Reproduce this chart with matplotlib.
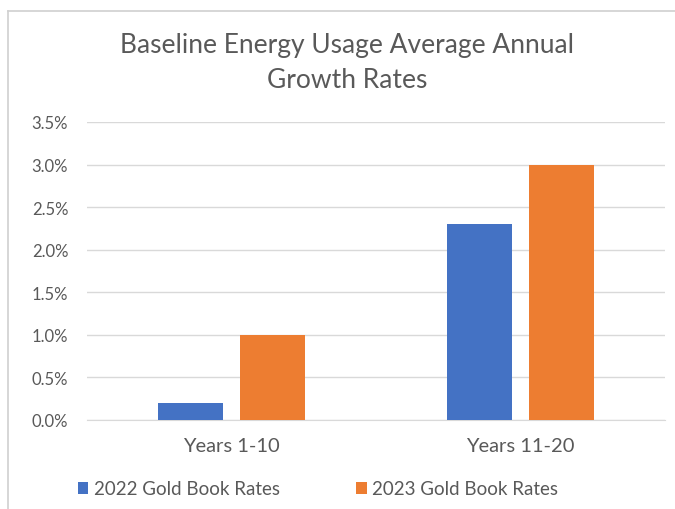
import matplotlib
matplotlib.use("Agg")
import matplotlib.pyplot as plt
from matplotlib.lines import Line2D
from matplotlib.patches import Patch
import numpy as np

categories = ["Years 1-10", "Years 11-20"]
series_names = ["2022 Gold Book Rates", "2023 Gold Book Rates"]
rates_2022 = [0.2, 2.3]
rates_2023 = [1.0, 3.0]
yticks = [0.0, 0.5, 1.0, 1.5, 2.0, 2.5, 3.0, 3.5]
title = "Baseline Energy Usage Average Annual\nGrowth Rates"

BLUE = "#4472C4"
ORANGE = "#ED7D31"
GRAY_TXT = "#595959"
GRID = "#D9D9D9"

plt.rcParams['font.family'] = ['Lato', 'DejaVu Sans']

W, H = 675, 510
fig = plt.figure(figsize=(W / 100, H / 100), dpi=100)
fig.patch.set_facecolor("white")

# axes: x 87..665, y 123..421 (pixel, top origin)
left, right, top, bottom = 87, 665, 123, 421
ax = fig.add_axes([left / W, 1 - bottom / H, (right - left) / W, (bottom - top) / H])

x = np.arange(len(categories))
bw = 0.225
off = 0.142
ax.bar(x - off, rates_2022, width=bw, color=BLUE, zorder=3)
ax.bar(x + off, rates_2023, width=bw, color=ORANGE, zorder=3)

ax.set_xlim(-0.5, len(categories) - 0.5)
ax.set_ylim(0, 3.5)
ax.set_yticks(yticks)
ax.set_yticklabels([f"{v:.1f}%" for v in yticks])
ax.set_xticks(x)
ax.set_xticklabels(categories)
ax.grid(axis="y", color=GRID, linewidth=1, zorder=0)
for s in ["top", "right", "left"]:
    ax.spines[s].set_visible(False)
ax.spines["bottom"].set_color(GRID)
ax.tick_params(axis="both", length=0, colors=GRAY_TXT)
ax.tick_params(axis="y", labelsize=12, pad=13.5)
ax.tick_params(axis="x", labelsize=14.5, pad=12)

fig.text(347 / W, 1 - 63 / H, title, ha="center", va="center",
         fontsize=19, color=GRAY_TXT, linespacing=1.55)

handles = [Patch(facecolor=BLUE), Patch(facecolor=ORANGE)]
leg = fig.legend(handles, series_names, loc="center", bbox_to_anchor=(318 / W, 1 - 490 / H),
                 ncol=2, frameon=False, fontsize=13.5, handlelength=0.55, handleheight=0.55,
                 handletextpad=0.3, columnspacing=4.1, labelcolor=GRAY_TXT)

# chart border (top and left visible)
fig.add_artist(Line2D([8 / W, 1], [1 - 11.5 / H, 1 - 11.5 / H], transform=fig.transFigure,
                      color="#D0D0D0", linewidth=1.2))
fig.add_artist(Line2D([8 / W, 8 / W], [0, 1 - 11.5 / H], transform=fig.transFigure,
                      color="#D0D0D0", linewidth=1.2))

fig.savefig("out.png", dpi=100)
